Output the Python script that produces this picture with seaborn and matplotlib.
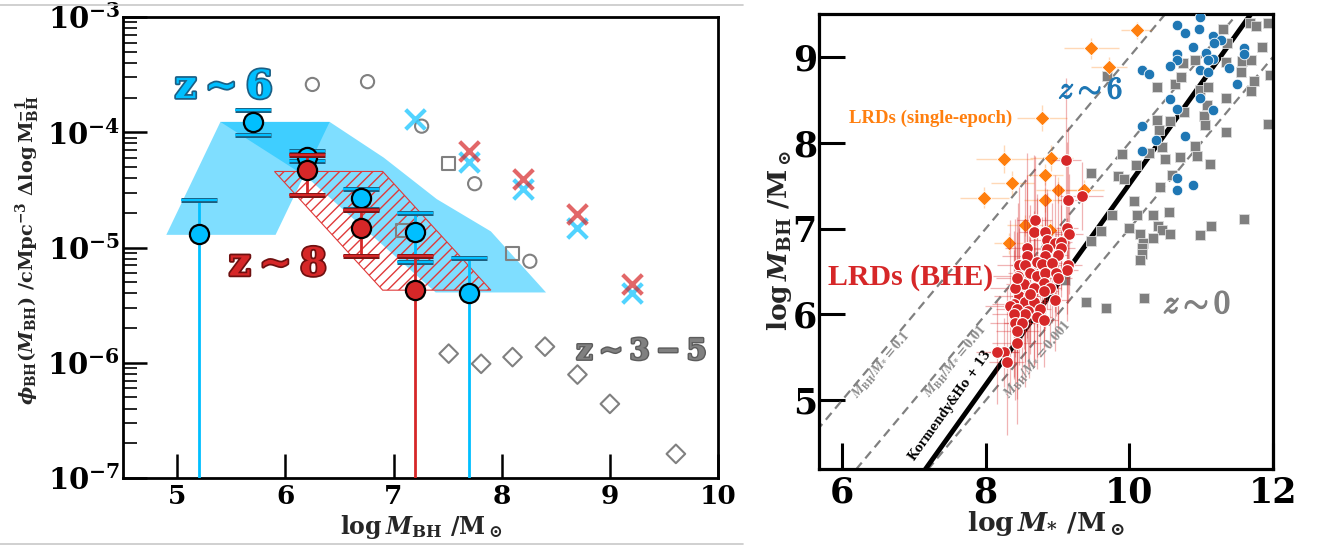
import numpy as np
import matplotlib
matplotlib.use('Agg')
import matplotlib.pyplot as plt
import seaborn as sns
from matplotlib.patches import Polygon
from matplotlib.lines import Line2D
import matplotlib.patheffects as pe
from matplotlib.ticker import FixedLocator, FuncFormatter, LogLocator, NullFormatter

# ---------------- Left panel data (BH mass function) ----------------
z6_x = [5.2, 5.7, 6.2, 6.7, 7.2, 7.7]
z6_phi = [1.30e-5, 1.23e-4, 6.15e-5, 2.67e-5, 1.36e-5, 4.07e-6]
z6_hi = [2.58e-5, 1.55e-4, 6.9e-5, 3.19e-5, 2.0e-5, 8.1e-6]
z6_lo = [1e-9, 9.4e-5, 5.6e-5, 2.14e-5, 7.5e-6, 1e-9]

z8_x = [6.2, 6.7, 7.2]
z8_phi = [4.7e-5, 1.48e-5, 4.27e-6]
z8_hi = [6.4e-5, 2.1e-5, 8.5e-6]
z8_lo = [2.85e-5, 8.5e-6, 1e-9]

circ_x = [6.25, 6.76, 7.26, 7.75, 8.26]
circ_phi = [2.6e-4, 2.75e-4, 1.13e-4, 3.58e-5, 7.6e-6]
sq_x = [7.08, 7.51, 8.10]
sq_phi = [1.41e-5, 5.37e-5, 8.9e-6]
dia_x = [7.51, 7.81, 8.10, 8.40, 8.70, 9.00, 9.61]
dia_phi = [1.2e-6, 9.8e-7, 1.12e-6, 1.38e-6, 7.9e-7, 4.4e-7, 1.62e-7]
xc_x = [7.2, 7.7, 8.2, 8.7, 9.2]
xc_phi = [1.30e-4, 5.5e-5, 3.2e-5, 1.48e-5, 4.0e-6]
xr_x = [7.7, 8.2, 8.7, 9.2]
xr_phi = [6.9e-5, 3.9e-5, 1.94e-5, 4.8e-6]

# shaded regions (x, log10 phi)
polyA_x = [4.90, 5.40, 6.41, 5.91]
polyA_y = [-4.89, -3.91, -3.91, -4.89]
polyB_x = [5.40, 6.41, 6.91, 7.40, 7.90, 8.41, 7.39, 6.20]
polyB_y = [-3.91, -3.91, -4.22, -4.58, -4.86, -5.39, -5.39, -4.39]
hatch_x = [5.90, 6.90, 7.90, 6.90]
hatch_y = [-4.34, -4.34, -5.37, -5.37]

# ---------------- Right panel data (M_BH - M_*) ----------------
blue_x = [10.98, 10.67, 10.77, 10.97, 11.17, 11.27, 11.18, 10.88, 10.67, 10.67,
          11.07, 11.17, 11.09, 11.59, 11.59, 10.57, 10.98, 11.09, 11.39, 10.17,
          10.27, 11.50, 10.98, 10.57, 10.67, 11.17, 10.17, 10.37, 10.77, 10.17,
          10.67, 10.67, 10.88]
blue_y = [9.46, 9.37, 9.28, 9.32, 9.24, 9.20, 9.16, 9.12, 9.04, 8.97,
          9.05, 8.98, 8.97, 9.11, 9.04, 8.90, 8.85, 8.83, 8.87, 8.85,
          8.80, 8.69, 8.52, 8.51, 8.39, 8.38, 8.19, 8.03, 8.08, 7.90,
          7.59, 7.45, 7.51]

grey_x = [11.31, 11.68, 11.76, 11.93, 11.36, 11.85, 11.57, 11.70, 11.35, 10.75,
          10.92, 11.55, 11.96, 11.74, 11.70, 9.69, 10.38, 10.64, 10.72, 10.98,
          11.10, 11.34, 11.08, 11.04, 11.05, 10.76, 10.39, 10.57, 10.41, 11.34,
          11.93, 10.46, 10.27, 10.49, 10.92, 10.94, 10.70, 11.12, 9.90, 10.09,
          9.46, 9.84, 9.92, 10.60, 10.43, 10.06, 9.76, 10.11, 10.33, 10.55,
          11.59, 9.61, 9.99, 10.15, 10.40, 10.46, 10.57, 10.33, 10.99, 11.14,
          10.19, 10.18, 10.18, 10.15, 9.47, 9.11, 9.40, 9.68, 10.20]
grey_y = [9.32, 9.39, 9.36, 9.40, 9.16, 9.12, 8.95, 8.96, 8.94, 8.93,
          8.97, 8.82, 8.79, 8.72, 8.60, 8.78, 8.65, 8.69, 8.77, 8.62,
          8.65, 8.52, 8.44, 8.31, 8.21, 8.36, 8.27, 8.25, 8.15, 8.13,
          8.22, 7.95, 7.88, 7.81, 7.96, 7.85, 7.84, 7.75, 7.87, 7.74,
          7.65, 7.61, 7.58, 7.62, 7.49, 7.32, 7.16, 7.16, 7.16, 7.19,
          7.11, 6.97, 7.01, 6.94, 7.03, 6.99, 6.94, 6.89, 6.93, 7.03,
          6.83, 6.77, 6.71, 6.63, 6.86, 6.40, 6.14, 6.07, 6.19]

orange_x = [10.10, 9.47, 9.72, 8.78, 8.26, 8.91, 8.83, 8.37, 9.00, 9.37, 7.98, 8.83, 8.55, 8.89, 8.32]
orange_y = [9.31, 9.10, 8.88, 8.29, 7.81, 7.82, 7.63, 7.53, 7.45, 7.45, 7.36, 7.33, 7.04, 6.98, 6.83]
orange_xerr = [0.21, 0.38, 0.25, 0.35, 0.40, 0.30, 0.25, 0.30, 0.30, 0.28, 0.34, 0.30, 0.25, 0.25, 0.20]
orange_yerr = [0.10, 0.12, 0.12, 0.15, 0.16, 0.15, 0.12, 0.14, 0.15, 0.12, 0.12, 0.14, 0.12, 0.12, 0.12]

red_x = [9.12, 9.34, 9.15, 8.68, 8.67, 8.83, 9.13, 9.16, 8.85, 8.97,
         9.05, 8.57, 9.05, 8.86, 9.00, 8.58, 8.83, 8.72, 8.46, 8.55,
         8.79, 8.93, 9.14, 9.13, 8.61, 8.71, 8.83, 8.98, 8.45, 9.00,
         8.53, 8.81, 8.67, 8.90, 8.81, 8.46, 8.60, 8.97, 8.39, 8.55,
         8.34, 8.67, 8.76, 8.44, 8.59, 8.41, 8.44, 8.72, 8.55, 8.39,
         8.81, 8.41, 8.51, 8.44, 8.44, 8.25, 8.29, 8.16, 8.62]
red_y = [7.80, 7.38, 7.33, 7.10, 6.96, 6.96, 7.01, 6.94, 6.87, 6.83,
         6.85, 6.78, 6.78, 6.76, 6.69, 6.68, 6.68, 6.61, 6.58, 6.58,
         6.59, 6.60, 6.58, 6.52, 6.48, 6.45, 6.48, 6.48, 6.45, 6.42,
         6.35, 6.37, 6.31, 6.31, 6.27, 6.21, 6.21, 6.17, 6.12, 6.15,
         6.10, 6.14, 6.06, 6.06, 6.04, 6.31, 6.43, 5.97, 6.00, 6.00,
         5.94, 5.90, 5.90, 5.81, 5.67, 5.56, 5.45, 5.56, 6.24]
red_yerr = [0.95, 0.40, 0.85, 0.75, 0.90, 0.60, 1.00, 0.70, 0.55, 0.80,
            0.65, 1.10, 0.50, 0.70, 0.85, 0.95, 0.60, 0.75, 0.90, 1.00,
            0.55, 0.70, 0.45, 0.60, 0.80, 0.95, 0.65, 0.50, 0.85, 0.60,
            0.75, 0.55, 0.90, 0.70, 0.65, 0.80, 0.95, 0.60, 0.85, 0.70,
            1.00, 0.75, 0.55, 0.90, 0.65, 0.80, 0.70, 0.60, 0.85, 0.75,
            0.55, 0.90, 0.70, 0.80, 0.95, 0.40, 0.85, 0.60, 0.70]
red_xerr = [0.20, 0.30, 0.15, 0.25, 0.20, 0.30, 0.15, 0.20, 0.25, 0.20,
            0.15, 0.30, 0.20, 0.25, 0.15, 0.35, 0.20, 0.25, 0.30, 0.20,
            0.15, 0.25, 0.20, 0.15, 0.30, 0.20, 0.25, 0.15, 0.35, 0.20,
            0.25, 0.20, 0.30, 0.15, 0.20, 0.35, 0.25, 0.20, 0.30, 0.25,
            0.35, 0.20, 0.15, 0.30, 0.25, 0.35, 0.30, 0.20, 0.25, 0.30,
            0.20, 0.35, 0.25, 0.30, 0.35, 0.20, 0.25, 0.30, 0.20]

ratios = [0.1, 0.01, 0.001]
ratio_labels = ['0.1', '0.01', '0.001']
ratio_lab_pos = [(6.55, 5.41), (7.58, 5.45), (8.72, 5.47)]
kh_norm, kh_slope = 8.69, 1.17   # Kormendy & Ho 2013

# ---------------- Style ----------------
sns.set_theme(style='ticks')
plt.rcParams.update({
    'font.family': ['DejaVu Serif'],
    'font.weight': 'bold',
    'mathtext.fontset': 'custom',
    'mathtext.rm': 'DejaVu Serif:bold',
    'mathtext.it': 'DejaVu Serif:italic:bold',
    'mathtext.bf': 'DejaVu Serif:bold',
    'mathtext.sf': 'DejaVu Serif:bold',
    'hatch.linewidth': 1.0,
    'axes.edgecolor': 'black',
    'axes.linewidth': 2.0,
    'xtick.color': 'black', 'ytick.color': 'black',
})

fig = plt.figure(figsize=(13.2, 5.46), dpi=100)
axL = fig.add_axes([0.0932, 0.1245, 0.4508, 0.8443])
axR = fig.add_axes([0.6205, 0.1410, 0.3439, 0.8333])

# ================= LEFT =================
axL.set_yscale('log')
axL.set_xlim(4.5, 10)
axL.set_ylim(1e-7, 1e-3)

axL.add_patch(Polygon(list(zip(polyA_x, [10**v for v in polyA_y])), closed=True,
                      facecolor='#00bfff', alpha=0.5, edgecolor='none', zorder=1))
axL.add_patch(Polygon(list(zip(polyB_x, [10**v for v in polyB_y])), closed=True,
                      facecolor='#00bfff', alpha=0.5, edgecolor='none', zorder=1))
axL.add_patch(Polygon(list(zip(hatch_x, [10**v for v in hatch_y])), closed=True,
                      facecolor='none', edgecolor='#e03a3a', hatch='///', lw=0.8, zorder=2))

axL.scatter(circ_x, circ_phi, s=90, facecolors='none', edgecolors='#808080', linewidths=1.5, zorder=3)
axL.scatter(sq_x, sq_phi, marker='s', s=85, facecolors='none', edgecolors='#808080', linewidths=1.5, zorder=3)
axL.scatter(dia_x, dia_phi, marker='D', s=90, facecolors='none', edgecolors='#808080', linewidths=1.5, zorder=3)
axL.scatter(xc_x, xc_phi, marker='x', s=200, color='#33ccff', alpha=0.85, linewidths=3, zorder=3)
axL.scatter(xr_x, xr_phi, marker='x', s=200, color='#d62728', alpha=0.7, linewidths=3, zorder=3)

def draw_err(ax, x, y, lo, hi, col, capcol, z):
    yerr = [[yy - l for yy, l in zip(y, lo)], [h - yy for yy, h in zip(y, hi)]]
    _, caps, _ = ax.errorbar(x, y, yerr=yerr, fmt='o', ms=13.8, mfc=col, mec='black', mew=1.6,
                             ecolor=col, elinewidth=2, capsize=13, capthick=2.2, zorder=z)
    for c in caps:
        c.set_path_effects([pe.withStroke(linewidth=3.6, foreground=capcol)])

draw_err(axL, z6_x, z6_phi, z6_lo, z6_hi, '#00bfff', '#1d5e7e', 5)
draw_err(axL, z8_x, z8_phi, z8_lo, z8_hi, '#d62728', '#7a1414', 6)

axL.text(5.43, 10**-3.61, r'$\mathbf{z\sim6}$', color='#00bfff', fontsize=28, ha='center', va='center',
         path_effects=[pe.withStroke(linewidth=2.5, foreground='#1b5f85')], zorder=7)
axL.text(5.93, 10**-5.15, r'$\mathbf{z\sim8}$', color='#d62728', fontsize=28, ha='center', va='center',
         path_effects=[pe.withStroke(linewidth=2.5, foreground='#6e1010')], zorder=7)
axL.text(9.29, 10**-5.90, r'$\mathbf{z\sim3-5}$', color='#808080', fontsize=21, ha='center', va='center',
         path_effects=[pe.withStroke(linewidth=2.0, foreground='#5c5c5c')], zorder=7)

axL.xaxis.set_major_locator(FixedLocator([5, 6, 7, 8, 9, 10]))
axL.yaxis.set_major_locator(FixedLocator([1e-7, 1e-6, 1e-5, 1e-4, 1e-3]))
axL.yaxis.set_major_formatter(FuncFormatter(lambda v, p: r'$\mathbf{10^{%d}}$' % int(round(np.log10(v)))))
axL.yaxis.set_minor_locator(LogLocator(base=10, subs=np.arange(2, 10)))
axL.yaxis.set_minor_formatter(NullFormatter())
axL.tick_params(axis='both', which='major', direction='in', length=17, width=1.8, top=False, right=False)
axL.tick_params(axis='y', which='minor', direction='in', length=10, width=1.2, right=False)
axL.tick_params(axis='x', labelsize=19, pad=4)
axL.tick_params(axis='y', labelsize=21, pad=2)
for s in axL.spines.values():
    s.set_linewidth(2.0)
    s.set_visible(True)

# ================= RIGHT =================
axR.set_xlim(5.68, 12)
axR.set_ylim(4.2, 9.5)
xx = np.array([5.0, 13.0])
for r in ratios:
    sns.lineplot(x=xx, y=xx + np.log10(r), ax=axR, color='#808080', lw=1.6,
                 linestyle=(0, (4, 2.5)), zorder=1)
sns.lineplot(x=xx, y=kh_norm + kh_slope * (xx - 11), ax=axR, color='black', lw=3.5, zorder=1)

sns.scatterplot(x=grey_x, y=grey_y, ax=axR, marker='s', s=48, color='#7f7f7f',
                edgecolor='#dcdcdc', linewidth=0.6, zorder=2)
sns.scatterplot(x=blue_x, y=blue_y, ax=axR, marker='o', s=58, color='#1f77b4',
                edgecolor='white', linewidth=0.6, zorder=3)
axR.errorbar(orange_x, orange_y, xerr=orange_xerr, yerr=orange_yerr, fmt='none',
             ecolor='#ff7f0e', alpha=0.3, elinewidth=1.0, zorder=3)
sns.scatterplot(x=orange_x, y=orange_y, ax=axR, marker='D', s=55, color='#ff7f0e',
                edgecolor='white', linewidth=0.5, zorder=4)
axR.errorbar(red_x, red_y, xerr=red_xerr, yerr=red_yerr, fmt='none',
             ecolor='#d62728', alpha=0.35, elinewidth=0.9, zorder=4)
sns.scatterplot(x=red_x, y=red_y, ax=axR, marker='o', s=72, color='#d62728',
                edgecolor='white', linewidth=0.8, zorder=5)

for lab, (lx, ly) in zip(ratio_labels, ratio_lab_pos):
    axR.text(lx, ly, r'$M_{\rm BH}/M_{*}=%s$' % lab, rotation=45, transform_rotates_text=True,
             rotation_mode='anchor', ha='center', va='center', color='#8a8a8a', fontsize=10,
             math_fontfamily='stix', zorder=6)
axR.text(7.50, 4.94, 'Kormendy&Ho + 13', rotation=np.degrees(np.arctan(kh_slope)),
         transform_rotates_text=True, rotation_mode='anchor', ha='center', va='center',
         color='black', fontsize=8.5, fontweight='bold', zorder=6)

axR.text(7.23, 8.29, 'LRDs (single-epoch)', color='#ff7f0e', fontsize=13.5,
         family='Liberation Serif', fontweight='bold', ha='center', va='center', zorder=7)
axR.text(6.955, 6.43, 'LRDs (BHE)', color='#d62728', fontsize=21.5,
         family='Liberation Serif', fontweight='bold', ha='center', va='center', zorder=7)
axR.text(9.46, 8.62, r'$z\sim6$', color='#1f77b4', fontsize=22, math_fontfamily='cm',
         ha='center', va='center', zorder=7,
         path_effects=[pe.withStroke(linewidth=1.0, foreground='#1f77b4')])
axR.text(10.94, 6.12, r'$z\sim0$', color='#808080', fontsize=23, math_fontfamily='cm',
         ha='center', va='center', zorder=7,
         path_effects=[pe.withStroke(linewidth=1.2, foreground='#808080')])

axR.xaxis.set_major_locator(FixedLocator([6, 8, 10, 12]))
axR.yaxis.set_major_locator(FixedLocator([5, 6, 7, 8, 9]))
axR.tick_params(axis='both', which='major', direction='in', length=19, width=2.2,
                labelsize=25, top=False, right=False)
axR.tick_params(axis='x', pad=5)
axR.tick_params(axis='y', pad=1.5)
axR.set_xlabel('')
axR.set_ylabel('')
for s in axR.spines.values():
    s.set_linewidth(2.3)
    s.set_visible(True)

# ================= labels =================
fig.text(28 / 1320, 1 - 250 / 546,
         r'$\phi_{\rm BH}(M_{\rm BH})$ /cMpc$^{-3}$ $\Delta\log{\rm M}_{\rm BH}^{-1}$',
         rotation=90, ha='center', va='center', fontsize=14, fontweight='bold')
fig.text(421 / 1320, 1 - 527 / 546, r'$\log M_{\rm BH}$ /M$_\odot$',
         ha='center', va='center', fontsize=17, fontweight='bold')
fig.text(1046 / 1320, 1 - 524 / 546, r'$\log M_{*}$ /M$_\odot$',
         ha='center', va='center', fontsize=19, fontweight='bold')
fig.text(780 / 1320, 1 - 240 / 546, r'$\log M_{\rm BH}$ /M$_\odot$',
         rotation=90, ha='center', va='center', fontsize=19, fontweight='bold')

for yy in [1 - 5 / 546, 1 - 544 / 546]:
    fig.add_artist(Line2D([0, 743 / 1320], [yy, yy], color='#c8c8c8', lw=1.2,
                          transform=fig.transFigure))

fig.savefig('out.png', dpi=100)
